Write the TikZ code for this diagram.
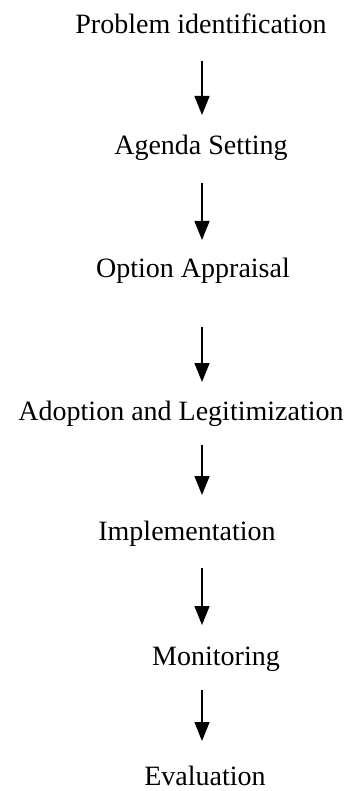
\documentclass[tikz,border=0pt]{standalone}
\usepackage{fontspec}
\setmainfont{Liberation Serif}
\usetikzlibrary{arrows.meta}
\begin{document}
\begin{tikzpicture}[x=1pt,y=-1pt,
  stage/.style={anchor=base,inner sep=0pt,font=\fontsize{28}{32}\selectfont},
  flow/.style={line width=1.3pt,-{Triangle[width=15pt,length=19pt]}}]
\useasboundingbox (0,0) rectangle (352,791);
\node[stage] (s1) at (201,34) {Problem identification};
\node[stage] (s2) at (201,155) {Agenda Setting};
\node[stage] (s3) at (193,277) {Option Appraisal};
\node[stage] (s4) at (181,420) {Adoption and Legitimization};
\node[stage] (s5) at (187,540) {Implementation};
\node[stage] (s6) at (216,665) {Monitoring};
\node[stage] (s7) at (205,785) {Evaluation};
% arrow end points along the common axis
\coordinate (a1) at (202,61);  \coordinate (b1) at (202,115);
\coordinate (a2) at (202,183); \coordinate (b2) at (202,240);
\coordinate (a3) at (202,327); \coordinate (b3) at (202,382);
\coordinate (a4) at (202,445); \coordinate (b4) at (202,495);
\coordinate (a5) at (202,568); \coordinate (b5) at (202,625);
\coordinate (a6) at (202,690); \coordinate (b6) at (202,741);
\foreach \i in {1,...,6} \draw[flow] (a\i) -- (b\i);
\end{tikzpicture}
\end{document}
